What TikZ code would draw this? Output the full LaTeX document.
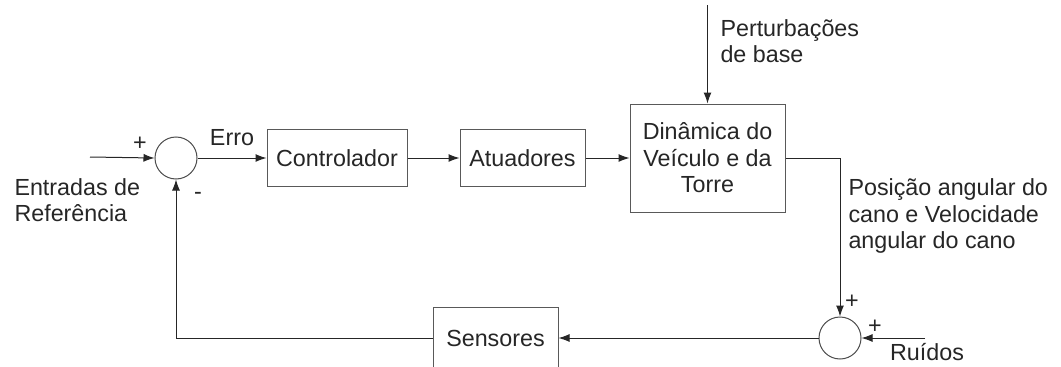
\documentclass[tikz,border=0pt]{standalone}
\usepackage{fontspec}
\setmainfont{Liberation Sans}
\usetikzlibrary{arrows.meta}
\begin{document}
\begin{tikzpicture}[x=1pt,y=-1pt,
  line width=1pt,
  every node/.style={font=\fontsize{23.3}{26.5}\selectfont, text=black!85, inner sep=0pt},
  blk/.style={draw=black!65, line width=1pt, rectangle, align=center},
  sumc/.style={draw=black!70, line width=1pt, circle, minimum size=42pt},
  conn/.style={draw=black!85, line width=1pt},
  arr/.style={conn, -{Latex[length=11pt,width=8pt]}},
  lbl/.style={align=left, anchor=west}
]
\useasboundingbox (0,0) rectangle (1061,367);
\clip (0,0) rectangle (1061,367);
\fill[white] (0,0) rectangle (1061,367);

\coordinate (in) at (90,157);
\node[sumc] (s1) at (176,158) {};
\node[blk, minimum width=140pt, minimum height=57pt] (ctrl) at (337,158) {Controlador};
\node[blk, minimum width=125pt, minimum height=57pt] (act) at (522.5,158) {Atuadores};
\node[blk, minimum width=155pt, minimum height=108pt] (dyn) at (707.5,158) {Dinâmica do\\Veículo e da\\Torre};
\coordinate (pert) at (707.5,5);
\node[sumc] (s2) at (840,338) {};
\coordinate (noise) at (925,338);
\node[blk, minimum width=125pt, minimum height=70pt] (sens) at (495.5,342) {};
\node (senst) at (495.5,338) {Sensores};

% connectors
\draw[arr] (in) -- (s1.west);
\draw[arr] (s1.east) -- (ctrl.west);
\draw[arr] (ctrl.east) -- (act.west);
\draw[arr] (act.east) -- (dyn.west);
\draw[arr] (pert) -- (dyn.north);
\draw[arr] (dyn.east |- 0,158) -| (s2.north);
\draw[arr] (noise) -- (s2.east);
\draw[arr] (s2.west) -- (sens.east |- s2.west);
\draw[arr] (sens.west |- 0,338) -| (s1.south);

% labels
\node (p1) at (140,144) {+};
\node (m1) at (198,196) {-};
\node (erro) at (232,138) {Erro};
\node[lbl] (ref) at (14,200) {Entradas de\\Referência};
\node[lbl] (pt) at (720,41) {Perturbações\\de base};
\node[lbl] (out) at (848,216) {Posição angular do\\cano e Velocidade\\angular do cano};
\node (p2) at (852,302) {+};
\node (p3) at (875,327) {+};
\node (ru) at (927,352) {Ruídos};
\end{tikzpicture}
\end{document}
